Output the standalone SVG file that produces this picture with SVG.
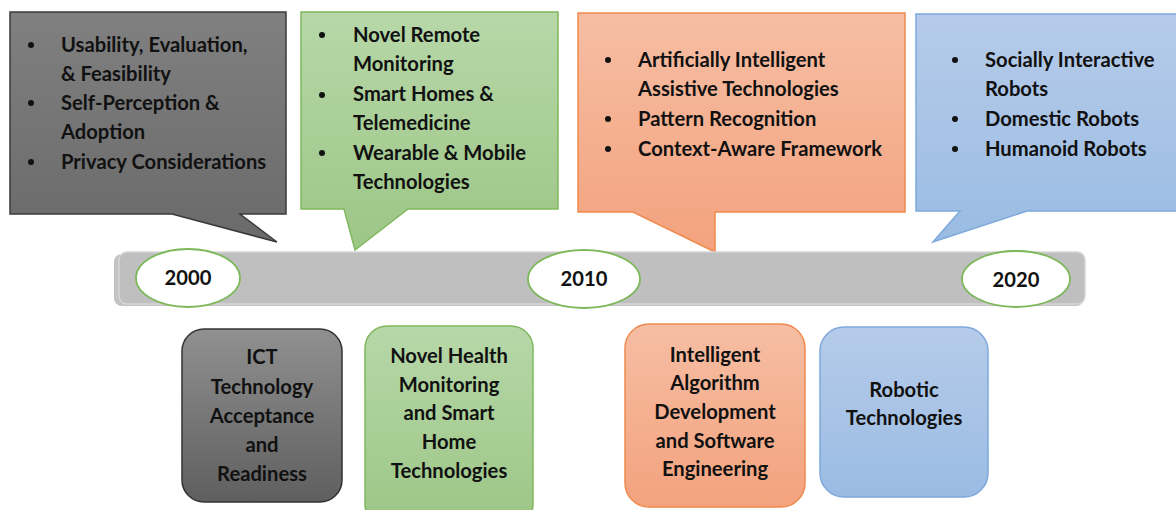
<svg xmlns="http://www.w3.org/2000/svg" width="1176" height="510" viewBox="0 0 1176 510">
<defs>
<linearGradient id="gGrey" x1="0" y1="0" x2="0" y2="1"><stop offset="0" stop-color="#808080"/><stop offset="1" stop-color="#6a6a6a"/></linearGradient>
<linearGradient id="gGreyBox" x1="0" y1="0" x2="0" y2="1"><stop offset="0" stop-color="#909090"/><stop offset="1" stop-color="#5f5f5f"/></linearGradient>
<linearGradient id="gGreen" x1="0" y1="0" x2="0" y2="1"><stop offset="0" stop-color="#b7d7a8"/><stop offset="1" stop-color="#9cc686"/></linearGradient>
<linearGradient id="gOrange" x1="0" y1="0" x2="0" y2="1"><stop offset="0" stop-color="#f6bea4"/><stop offset="1" stop-color="#f3a27d"/></linearGradient>
<linearGradient id="gBlue" x1="0" y1="0" x2="0" y2="1"><stop offset="0" stop-color="#b6cbe9"/><stop offset="1" stop-color="#9abce3"/></linearGradient>
</defs>
<style>
text{font-family:Lato,"Liberation Sans",sans-serif;font-weight:bold;font-size:20.2px;fill:#111}
.c{text-anchor:middle}
.grey{fill:url(#gGrey);stroke:#3a3a3a;stroke-width:1.5}
.greyb{fill:url(#gGreyBox);stroke:#333;stroke-width:1.5}
.green{fill:url(#gGreen);stroke:#80b85e;stroke-width:1.5}
.orange{fill:url(#gOrange);stroke:#ee8a4e;stroke-width:1.5}
.blue{fill:url(#gBlue);stroke:#7ea9dc;stroke-width:1.5}
.yr{fill:#fff;stroke:#7cb85a;stroke-width:1.8}
.bul{fill:#111}
</style>

<g id="callout-grey">
<path class="grey" d="M10,12 H286 V214 H240 L277,242 L172,214 H10 Z"/>
<circle class="bul" cx="31" cy="45" r="3"/><circle class="bul" cx="31" cy="103" r="3"/><circle class="bul" cx="31" cy="162" r="3"/>
<text x="61" y="52">Usability, Evaluation,</text>
<text x="61" y="81">&amp; Feasibility</text>
<text x="61" y="110">Self-Perception &amp;</text>
<text x="61" y="139">Adoption</text>
<text x="61" y="169">Privacy Considerations</text>
</g>

<g id="callout-green">
<path class="green" d="M301,12 H558 V209 H408 L355,250 L344,209 H301 Z"/>
<circle class="bul" cx="322" cy="35" r="3"/><circle class="bul" cx="322" cy="95" r="3"/><circle class="bul" cx="322" cy="153" r="3"/>
<text x="353" y="42">Novel Remote</text>
<text x="353" y="71">Monitoring</text>
<text x="353" y="101">Smart Homes &amp;</text>
<text x="353" y="130">Telemedicine</text>
<text x="353" y="160">Wearable &amp; Mobile</text>
<text x="353" y="189">Technologies</text>
</g>

<g id="callout-orange">
<path class="orange" d="M578,13 H905 V212 H715 V252 L633,212 H578 Z"/>
<circle class="bul" cx="608" cy="60" r="3"/><circle class="bul" cx="608" cy="119" r="3"/><circle class="bul" cx="608" cy="149" r="3"/>
<text x="638" y="67">Artificially Intelligent</text>
<text x="638" y="96">Assistive Technologies</text>
<text x="638" y="126">Pattern Recognition</text>
<text x="638" y="156">Context-Aware Framework</text>
</g>

<g id="callout-blue">
<path class="blue" d="M916,14 H1180 V211 H1027 L933,242 L960,211 H916 Z"/>
<circle class="bul" cx="955" cy="60" r="3"/><circle class="bul" cx="955" cy="119" r="3"/><circle class="bul" cx="955" cy="149" r="3"/>
<text x="985" y="67">Socially Interactive</text>
<text x="985" y="96">Robots</text>
<text x="985" y="126">Domestic Robots</text>
<text x="985" y="156">Humanoid Robots</text>
</g>

<g id="timeline">
<rect x="114" y="254" width="970" height="52" rx="8" fill="#9a9a9a" opacity="0.6"/>
<rect x="119" y="252" width="966" height="52" rx="8" fill="#bfbfbf" stroke="#d6d6d6" stroke-width="1.5"/>
</g>

<g id="year-2000"><ellipse class="yr" cx="188" cy="278" rx="52" ry="29"/><text class="c" x="188" y="285">2000</text></g>
<g id="year-2010"><ellipse class="yr" cx="584" cy="279" rx="56" ry="29"/><text class="c" x="584" y="286">2010</text></g>
<g id="year-2020"><ellipse class="yr" cx="1016" cy="279" rx="54" ry="28"/><text class="c" x="1016" y="287">2020</text></g>

<g id="box-ict">
<rect class="greyb" x="182" y="329" width="160" height="173" rx="22"/>
<text class="c" x="262" y="364">ICT</text>
<text class="c" x="262" y="394">Technology</text>
<text class="c" x="262" y="423">Acceptance</text>
<text class="c" x="262" y="452">and</text>
<text class="c" x="262" y="481">Readiness</text>
</g>

<g id="box-health">
<rect class="green" x="365" y="326" width="168" height="200" rx="22"/>
<text class="c" x="449" y="363">Novel Health</text>
<text class="c" x="449" y="392">Monitoring</text>
<text class="c" x="449" y="420">and Smart</text>
<text class="c" x="449" y="449">Home</text>
<text class="c" x="449" y="478">Technologies</text>
</g>

<g id="box-algorithm">
<rect class="orange" x="625" y="324" width="180" height="183" rx="24"/>
<text class="c" x="715" y="362">Intelligent</text>
<text class="c" x="715" y="390">Algorithm</text>
<text class="c" x="715" y="419">Development</text>
<text class="c" x="715" y="448">and Software</text>
<text class="c" x="715" y="476">Engineering</text>
</g>

<g id="box-robotic">
<rect class="blue" x="820" y="327" width="168" height="170" rx="24"/>
<text class="c" x="904" y="397">Robotic</text>
<text class="c" x="904" y="425">Technologies</text>
</g>
</svg>
